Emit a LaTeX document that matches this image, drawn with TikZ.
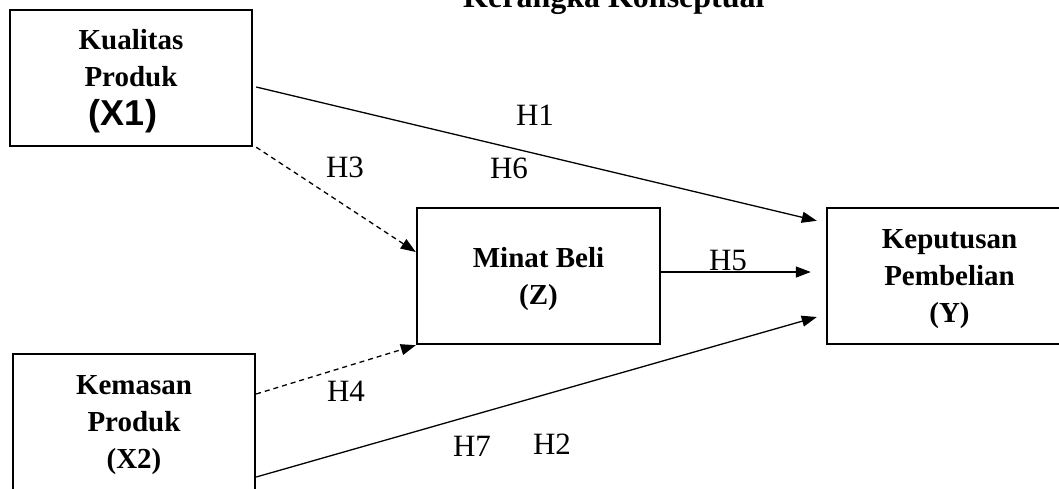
\documentclass[tikz,border=0pt]{standalone}
\usepackage{fontspec}
\setmainfont{Liberation Serif}
\newfontfamily\arialf{Liberation Sans}
\usetikzlibrary{arrows.meta}
\newcommand{\toppad}{\rule{0pt}{26pt}}
\tikzset{
  varbox/.style={draw, line width=2.4pt, rectangle, align=center, inner sep=0pt,
    font=\bfseries\fontsize{29}{37}\selectfont},
  conn/.style={line width=1.3pt, -{Triangle[length=15pt,width=11pt]}},
  dconn/.style={conn, dash pattern=on 5pt off 4pt},
  hlab/.style={anchor=base, inner sep=0pt, font=\fontsize{31}{31}\selectfont},
}
\begin{document}
\begin{tikzpicture}[x=1pt,y=-1pt]
\useasboundingbox (0,0) rectangle (1059,488);
\clip (0,0) rectangle (1059,488);
\node[anchor=base west, inner sep=0pt, font=\bfseries\fontsize{32}{32}\selectfont] (title) at (463,7) {Kerangka Konseptual};
\node[varbox, minimum width=242pt, minimum height=136pt] (X1) at (131,78)
  {\toppad Kualitas\\Produk\\[2pt]{\arialf\bfseries\fontsize{36}{37}\selectfont (X1)\hspace*{16pt}}};
\node[varbox, minimum width=242pt, minimum height=136pt] (X2) at (134,422)
  {\toppad Kemasan\\Produk\\(X2)};
\node[varbox, minimum width=243pt, minimum height=136pt] (M) at (538.5,276)
  {\toppad Minat Beli\\(Z)};
\node[varbox, minimum width=245pt, minimum height=136pt] (Y) at (949.5,276)
  {\toppad Keputusan\\Pembelian\\(Y)};
\draw[conn] ([xshift=3pt,yshift=-9pt]X1.east) -- ([xshift=-9pt,yshift=-14pt]Y.north west);
\draw[dconn] ([xshift=3pt]X1.south east) -- ([yshift=24pt]M.west);
\draw[conn] ([yshift=4pt]M.east) -- ([xshift=-15pt,yshift=4pt]Y.west);
\draw[dconn] ([yshift=28pt]X2.east) -- (M.south west);
\draw[conn] ([yshift=-55pt]X2.east) -- ([xshift=-9pt,yshift=-41pt]Y.west);
\node[hlab] (h1) at (535,125) {H1};
\node[hlab] (h6) at (509,178) {H6};
\node[hlab] (h3) at (345,177) {H3};
\node[hlab] (h5) at (728,270) {H5};
\node[hlab] (h4) at (346,401) {H4};
\node[hlab] (h7) at (472,456) {H7};
\node[hlab] (h2) at (552,454) {H2};
\end{tikzpicture}
\end{document}
